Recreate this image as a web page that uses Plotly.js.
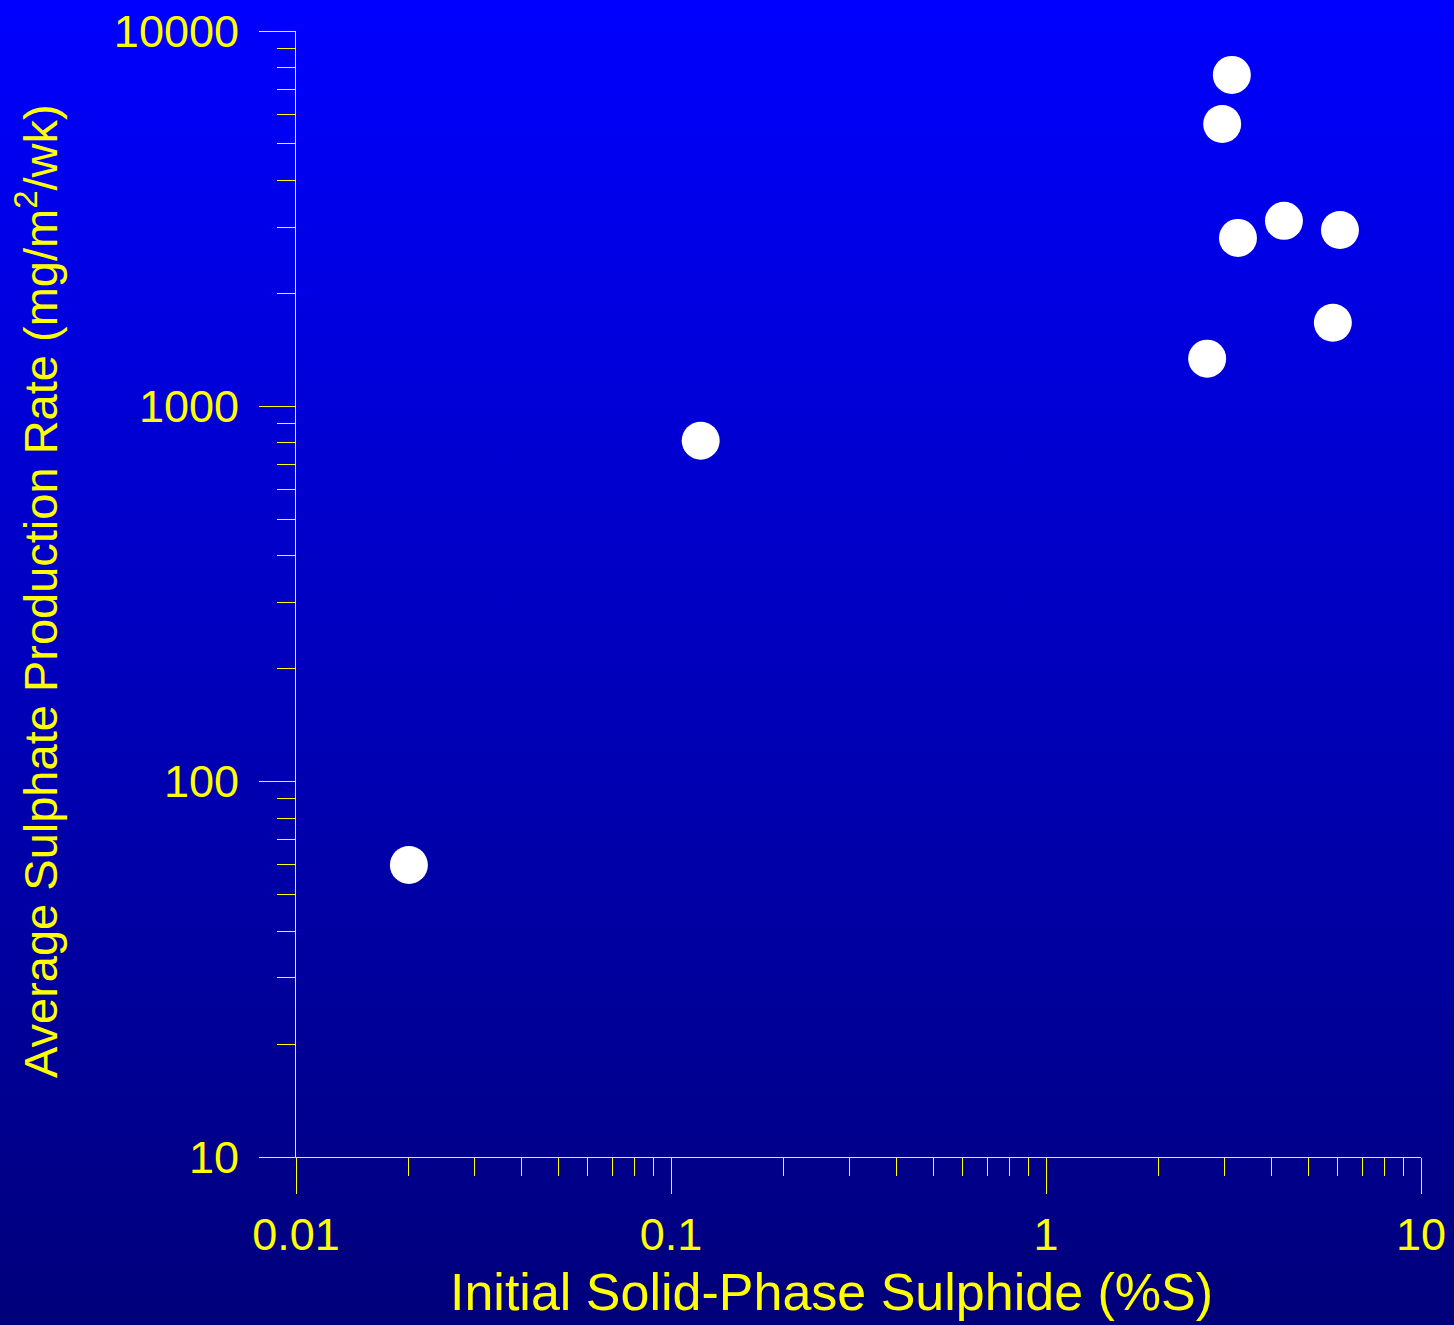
<!DOCTYPE html>
<html>
<head>
<meta charset="utf-8">
<script src="https://cdn.plot.ly/plotly-3.0.1.min.js"></script>
<style>
  html, body { margin: 0; padding: 0; }
  body { width: 1454px; height: 1325px; background: linear-gradient(to bottom, #0000ff 0%, #00007a 100%); }
  #chart { width: 1454px; height: 1325px; }
</style>
</head>
<body>
<div id="chart"></div>
<script>
// Data
const sulphidePct = [0.02, 0.12, 2.69, 2.95, 3.13, 3.25, 4.31, 5.82, 6.08];
const sulphateRate = [60, 810, 1340, 5650, 7640, 2810, 3120, 1670, 2950];

// Tick labels
const xMajorVals = [0.01, 0.1, 1, 10];
const xMajorText = ['0.01', '0.1', '1', '10'];
const yMajorVals = [10, 100, 1000, 10000];
const yMajorText = ['10', '100', '1000', '10000'];

// Axis titles
const xTitle = 'Initial Solid-Phase Sulphide (%S)';
const yTitle = 'Average Sulphate Production Rate (mg/m<sup>2</sup>/wk)';

function minorVals(lo, hi) {
  const out = [];
  for (let d = lo; d < hi; d *= 10) {
    for (let m = 2; m <= 9; m++) out.push(+(m * d).toPrecision(3));
  }
  return out;
}

const fontFam = 'Liberation Sans, Arial, sans-serif';
const yellow = '#ffff00';

const trace = {
  x: sulphidePct,
  y: sulphateRate,
  type: 'scatter',
  mode: 'markers',
  marker: { size: 38, color: '#ffffff', line: { width: 0 } },
  hoverinfo: 'x+y',
  showlegend: false
};

const layout = {
  width: 1454,
  height: 1325,
  paper_bgcolor: 'rgba(0,0,0,0)',
  plot_bgcolor: 'rgba(0,0,0,0)',
  margin: { l: 296, r: 33, t: 31, b: 168 },
  showlegend: false,
  xaxis: {
    type: 'log',
    range: [-2, 1],
    showgrid: false,
    zeroline: false,
    showline: true,
    linecolor: yellow,
    linewidth: 1,
    ticks: 'outside',
    ticklen: 36,
    tickwidth: 1,
    tickcolor: yellow,
    tickmode: 'array',
    tickvals: xMajorVals,
    ticktext: xMajorText,
    tickfont: { family: fontFam, size: 45, color: yellow },
    ticklabelstandoff: 2,
    minor: { ticks: 'outside', ticklen: 18, tickwidth: 1, tickcolor: yellow, tickmode: 'array', tickvals: minorVals(0.01, 10), showgrid: false },
    automargin: false
  },
  yaxis: {
    type: 'log',
    range: [1, 4],
    showgrid: false,
    zeroline: false,
    showline: true,
    linecolor: yellow,
    linewidth: 1,
    ticks: 'outside',
    ticklen: 36,
    tickwidth: 1,
    tickcolor: yellow,
    tickmode: 'array',
    tickvals: yMajorVals,
    ticktext: yMajorText,
    tickfont: { family: fontFam, size: 45, color: yellow },
    ticklabelstandoff: 11,
    minor: { ticks: 'outside', ticklen: 18, tickwidth: 1, tickcolor: yellow, tickmode: 'array', tickvals: minorVals(10, 10000), showgrid: false },
    automargin: false
  },
  annotations: [
    {
      text: xTitle,
      xref: 'paper', yref: 'paper',
      x: 0.4764, y: -0.1199,
      xanchor: 'center', yanchor: 'middle',
      showarrow: false,
      font: { family: fontFam, size: 52, color: yellow }
    },
    {
      text: yTitle,
      xref: 'paper', yref: 'paper',
      x: -0.2302, y: 0.5027,
      xanchor: 'center', yanchor: 'middle',
      textangle: -90,
      showarrow: false,
      font: { family: fontFam, size: 47, color: yellow }
    }
  ]
};

Plotly.newPlot('chart', [trace], layout, { displayModeBar: false, staticPlot: true });
</script>
</body>
</html>
